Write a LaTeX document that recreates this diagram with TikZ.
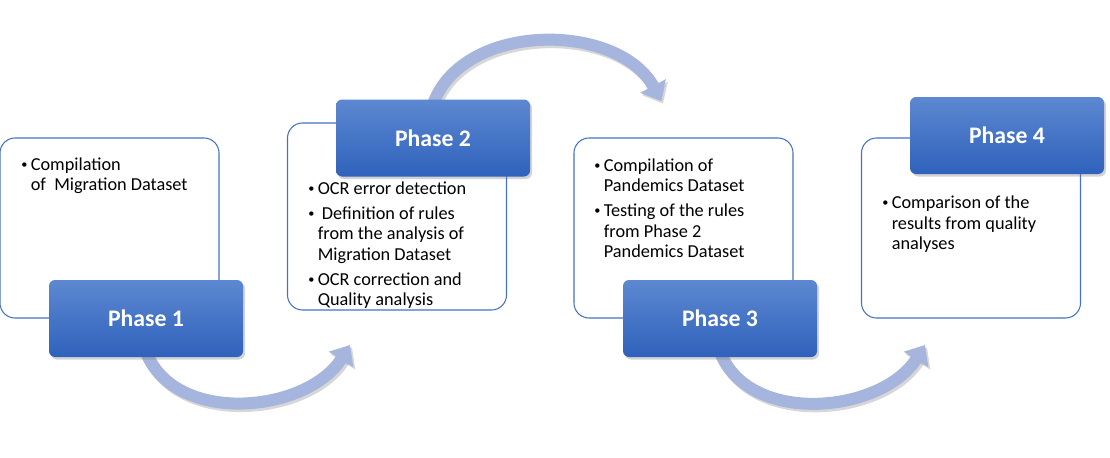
\documentclass[tikz,border=0pt]{standalone}
\usepackage{fontspec}
\setmainfont{Carlito}
\usetikzlibrary{arrows.meta, shadows, backgrounds}
\definecolor{cardline}{HTML}{4472C4}
\definecolor{phasetop}{HTML}{5D88D1}
\definecolor{phasebot}{HTML}{2F62BC}
\definecolor{flowc}{HTML}{A6B5DD}
\newcommand{\bul}{\makebox[5.4pt][l]{\raisebox{1pt}{\fontsize{7}{7}\selectfont\textbullet}}}
\newcommand{\hang}{\hspace*{5.4pt}}
\tikzset{
  % white card with the tasks
  card/.style={draw=cardline, line width=0.6pt, rounded corners=0.3cm, fill=white,
    minimum width=4.38cm, minimum height=3.6cm, inner sep=0pt},
  % blue title box
  phase/.style={rounded corners=0.12cm, top color=phasetop, bottom color=phasebot,
    minimum width=3.88cm, minimum height=1.54cm, text=white,
    font=\fontsize{13.5}{16}\selectfont\bfseries,
    drop shadow={shadow xshift=0.04cm, shadow yshift=-0.05cm, opacity=0.35}},
  % bullet text
  tasks/.style={anchor=north west, align=left, inner sep=0pt,
    font=\fontsize{10.4}{11.7}\selectfont},
  % curved arrows
  flow/.style={line width=0.24cm, flowc, -{Triangle[width=0.56cm, length=0.34cm]}},
  flowshadow/.style={flow, black!45, opacity=0.35},
}

\begin{document}
\begin{tikzpicture}
  \useasboundingbox (0,0) rectangle (22.2,9.14);
  % cards
  \node[card] (k1) at (2.19,4.58) {};
  \node[card, minimum height=3.74cm] (k2) at (7.94,4.81) {};
  \node[card] (k3) at (13.67,4.58) {};
  \node[card] (k4) at (19.42,4.58) {};
  \node[tasks] (t1) at (0.42,6.00) {\bul Compilation\\\hang of\ \ Migration Dataset};
  \node[tasks] (t2) at (6.16,5.52) {\bul OCR error detection\\[2.5pt]
    \bul\ Definition of rules\\\hang from the analysis of\\\hang Migration Dataset\\[2.5pt]
    \bul OCR correction and\\\hang Quality analysis};
  \node[tasks] (t3) at (11.88,5.98) {\bul Compilation of\\\hang Pandemics Dataset\\[2.5pt]
    \bul Testing of the rules\\\hang from Phase 2\\\hang Pandemics Dataset};
  \node[tasks] (t4) at (17.64,5.23) {\bul Comparison of the\\\hang results from quality\\\hang analyses};
  % phases
  \node[phase] (p1) at (2.92,2.77) {Phase 1};
  \node[phase] (p2) at (8.66,6.38) {Phase 2};
  \node[phase] (p3) at (14.40,2.77) {Phase 3};
  \node[phase] (p4) at (20.14,6.43) {Phase 4};
  % arrows between phases
  \coordinate (c1) at (7.00,2.24);
  \coordinate (c2) at (13.22,7.12);
  \coordinate (c3) at (18.50,2.24);
  \begin{scope}[on background layer]
    \foreach \from/\s/\to/\o/\i in {p1.south/0.1/c1/-68/-122, p2.north/-0.1/c2/70/118, p3.south/0.1/c3/-68/-122} {
      \draw[flowshadow] ([xshift=0.04cm, yshift=\s cm-0.05cm]\from) to[out=\o, in=\i] ([xshift=0.04cm, yshift=-0.05cm]\to);
      \draw[flow] ([yshift=\s cm]\from) to[out=\o, in=\i] (\to);
    }
  \end{scope}
\end{tikzpicture}
\end{document}
